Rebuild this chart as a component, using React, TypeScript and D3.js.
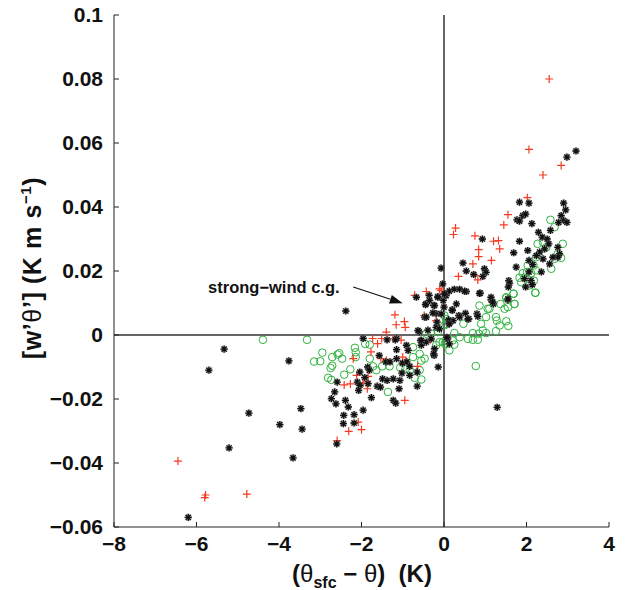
import React from "react";
import * as d3 from "d3";

const xTicks = [-8, -6, -4, -2, 0, 2, 4];
const xTickLabels = ["−8", "−6", "−4", "−2", "0", "2", "4"];
const yTicks = [-0.06, -0.04, -0.02, 0, 0.02, 0.04, 0.06, 0.08, 0.1];
const yTickLabels = ["−0.06", "−0.04", "−0.02", "0", "0.02", "0.04", "0.06", "0.08", "0.1"];

const blackPoints: [number, number][] = [
  [-6.2, -0.057], [-5.21, -0.0353], [-5.33, -0.0044], [-5.7, -0.011], [-4.73, -0.0244], [-3.98, -0.028],
  [-3.47, -0.023], [-3.44, -0.0294], [-3.66, -0.0384], [-3.76, -0.0081], [-2.38, 0.0075], [-2.6, -0.034],
  [1.29, -0.0226], [2.98, 0.0556], [3.2, 0.0575],
  [-0.67, 0.0118], [-0.43, 0.0098], [-0.36, 0.0124], [-0.25, 0.0093], [-0.15, 0.012], [0.03, 0.0129],
  [-0.02, 0.0108], [-0.19, 0.0067], [-0.27, 0.0069], [-0.47, 0.0056], [-0.6, 0.001], [-0.39, 0.0015],
  [-0.17, 0.004], [-1.96, -0.0011], [-1.38, -0.0015], [-1.15, -0.0011], [-0.91, -0.0032], [-1.15, -0.0046],
  [-0.87, -0.0048], [-0.57, -0.0017], [-0.55, -0.0032], [-0.43, -0.0022], [-0.23, -0.0043], [-0.24, -0.0064],
  [-1.57, -0.0064], [-1.41, -0.0084], [-1.31, -0.0084], [-1.15, -0.0074], [-1.01, -0.0088], [-0.9, -0.0084],
  [-0.83, -0.0098], [-1.85, -0.01], [-1.81, -0.011], [-2.04, -0.0116], [-1.92, -0.0133], [-2.1, -0.0147],
  [-2.04, -0.0157], [-2.07, -0.0173], [-1.84, -0.0152], [-1.49, -0.0137], [-1.38, -0.0142], [-1.23, -0.0137],
  [-1.07, -0.0142], [-1.02, -0.0119], [-1.62, -0.016], [-1.54, -0.0163], [-1.09, -0.0168], [-0.65, -0.016],
  [-0.83, -0.0126], [-0.65, -0.0116], [-0.14, -0.01], [-2.59, -0.0147], [-2.65, -0.0178], [-2.73, -0.0199],
  [-2.39, -0.0204], [-2.62, -0.0215], [-1.76, -0.0196], [-1.23, -0.0204], [-1.17, -0.0213], [-1.96, -0.0235],
  [-2.32, -0.0225], [-2.43, -0.0251], [-2.18, -0.0249], [-2.44, -0.0277], [-2.18, -0.0275],
  [0.3, 0.0097], [0.2, 0.0079], [0.36, 0.0061], [0.52, 0.0068], [0.6, 0.005], [0.22, 0.0045], [0.12, 0.0035],
  [0.8, 0.0066], [0.82, 0.0058], [1.14, 0.011], [1.2, 0.0097], [1.55, 0.011], [0.88, 0.0131], [0.54, 0.0136],
  [0.09, -0.0012],
  [1.83, 0.0415], [2.06, 0.0412], [1.77, 0.036], [1.91, 0.0373], [1.98, 0.0378], [1.83, 0.0356], [2.13, 0.0348],
  [2.9, 0.0412], [2.95, 0.0391], [2.84, 0.0373], [2.9, 0.0358], [2.98, 0.0352], [2.78, 0.0352], [0.93, 0.03],
  [1.83, 0.0293], [2.29, 0.0321], [2.38, 0.0306], [2.58, 0.0327], [2.5, 0.03], [2.54, 0.0285], [2.44, 0.0269],
  [2.76, 0.0274], [2.8, 0.0254], [2.76, 0.0243], [2.64, 0.0243], [2.32, 0.0259], [2.4, 0.0238], [2.24, 0.0248],
  [2.03, 0.0264], [1.69, 0.0257], [2.06, 0.0233], [2.15, 0.022], [2.56, 0.0222], [2.36, 0.0197], [2.06, 0.0197],
  [1.95, 0.0176], [2.11, 0.017], [1.98, 0.015], [2.14, 0.0157], [1.57, 0.017], [1.59, 0.0162], [1.56, 0.015],
  [1.75, 0.0212], [0.46, 0.0225], [0.54, 0.02], [0.98, 0.0207], [1.02, 0.0196], [0.72, 0.0189], [0.94, 0.0183],
  [-0.07, 0.0209], [-0.03, 0.016], [0.13, 0.0137], [0.25, 0.0143], [0.38, 0.0143], [0.5, 0.0137], [0.05, 0.0123],
  [0.86, 0.013], [1.14, 0.0118], [1.18, 0.0103], [1.55, 0.0113],
  [0.01, 0.0128], [-0.45, 0.0095], [-0.35, 0.0108], [-0.15, 0.0118], [0, 0.0087], [-0.23, 0.0092],
  [-0.07, 0.0066], [-0.43, 0.0056], [0.2, 0.0077], [0.38, 0.0056], [0.58, 0.005], [-0.19, 0.0024],
  [-0.11, 0.0019], [0.11, 0.0047], [0.13, 0.0035], [-0.63, 0.0014], [-0.55, -0.0017], [-0.31, -0.0012],
  [-1.18, -0.0015], [-0.25, -0.0059], [0.07, -0.0007], [0.13, -0.0028],
];

const redPoints: [number, number][] = [
  [-6.45, -0.0394], [-5.78, -0.05], [-5.8, -0.0508], [-4.78, -0.0497], [2.55, 0.08], [2.06, 0.058], [2.4, 0.05],
  [2.84, 0.053],
  [-1.19, 0.0063], [-1.16, 0.0032], [-0.96, 0.0042], [-0.94, 0.0024], [-1.4, 0.0009], [-1.73, -0.0011],
  [-1.61, -0.0027], [-1.51, -0.0011], [-1.24, -0.0011], [-1.04, -0.0016], [-0.71, 0.0124], [-0.43, 0.0136],
  [-0.48, 0.0061], [-0.33, -0.0015], [-1.77, -0.0053], [-1.53, -0.0074], [-1.4, -0.0079], [-1.0, -0.0069],
  [-0.93, -0.0082], [-0.64, -0.0098], [-2.2, -0.0074], [-2.12, -0.0126], [-1.84, -0.0129], [-1.88, -0.0147],
  [-1.96, -0.015], [-2.42, -0.0156], [-2.27, -0.0153], [-1.86, -0.0168], [-0.95, -0.0204], [-2.08, -0.0272],
  [-2.31, -0.0301], [-2.0, -0.0296], [-2.59, -0.033],
  [2.02, 0.0429], [1.55, 0.0376], [1.45, 0.0344], [0.28, 0.0334], [0.23, 0.0314], [0.75, 0.031], [1.2, 0.0293],
  [1.32, 0.0295], [0.84, 0.0267], [1.35, 0.0269], [0.84, 0.0245], [1.15, 0.0233], [0.7, 0.0222], [0.76, 0.0186],
  [0.82, 0.0172], [0.35, 0.0183], [-0.07, 0.0139], [0.01, 0.0129], [-0.11, 0.0144], [-0.19, 0.0045],
];

const greenPoints: [number, number][] = [
  [-4.39, -0.0015], [-3.32, -0.0015], [0.77, -0.0097],
  [-2.95, -0.0055], [-3.15, -0.0083], [-3.0, -0.0082], [-2.71, -0.0069], [-2.54, -0.0057], [-2.47, -0.0074],
  [-2.58, -0.0061], [-2.16, -0.004], [-2.14, -0.0054], [-2.14, -0.0069], [-1.91, -0.0028], [-1.8, -0.003],
  [-2.75, -0.0103], [-2.71, -0.0096], [-2.81, -0.0134], [-2.73, -0.014], [-2.42, -0.0124], [-2.27, -0.0107],
  [-1.8, -0.0074], [-1.72, -0.0098], [-1.64, -0.011], [-1.5, -0.0098], [-1.36, -0.0178], [-1.32, -0.0098],
  [-1.06, -0.0102], [-0.93, -0.0105], [-0.75, -0.0038], [-0.59, -0.0059], [-0.47, -0.0074], [-0.55, -0.008],
  [-0.75, -0.0069], [-0.71, -0.0134], [-0.55, -0.0139], [-0.59, -0.011], [-0.83, -0.011], [-0.43, 0.0004],
  [-0.31, 0.0004], [-0.15, 0.0009], [-0.19, -0.0032], [-0.11, -0.0022], [0.02, -0.0027], [0.05, -0.0017],
  [0.05, 0.005], [0.01, 0.003],
  [1.68, 0.0129], [2.21, 0.0132], [1.51, 0.0118], [1.37, 0.0097], [1.55, 0.0087], [1.71, 0.0097], [1.47, 0.0082],
  [0.86, 0.0092], [1.06, 0.0082], [1.02, 0.0056], [1.26, 0.0056], [1.28, 0.0045], [1.35, 0.003], [1.51, 0.0043],
  [1.56, 0.0028], [1.26, 0.0012], [0.9, 0.0035], [0.94, 0.0014], [1.02, 0.0006], [0.84, 0.0004], [0.7, 0.0006],
  [0.47, 0.0035], [0.01, 0.0061], [0.05, 0.0035], [0.25, 0.0006], [0.38, -0.0007], [0.58, -0.0012],
  [0.7, -0.0015], [0.82, -0.0015], [0.21, -0.0017], [0.05, -0.0028], [-0.03, -0.0022], [0.13, -0.0048],
  [0.25, -0.003],
  [2.58, 0.036], [2.68, 0.0337], [2.88, 0.0285], [2.27, 0.0285], [2.4, 0.029], [2.48, 0.0274], [2.76, 0.0254],
  [2.84, 0.0241], [2.68, 0.0238], [2.6, 0.0207], [2.23, 0.0243], [2.03, 0.0217], [2.17, 0.0217], [2.23, 0.0202],
  [2.01, 0.0197], [2.11, 0.0193], [1.91, 0.0193], [1.95, 0.0179], [2.18, 0.017], [2.07, 0.0155], [1.87, 0.0165],
  [2.22, 0.0132], [1.83, 0.0179], [1.69, 0.0129], [1.51, 0.0116], [1.71, 0.0097], [1.1, 0.0082],
];

const annotationText = "strong−wind c.g.";
const annotationTextPos: [number, number] = [-2.53, 0.0131];
const arrowStart: [number, number] = [-2.2, 0.0150];
const arrowEnd: [number, number] = [-1.0, 0.0099];

const FONT = "'Liberation Sans', Arial, Helvetica, sans-serif";

export default function App() {
  const x = d3.scaleLinear().domain([-8, 4]).range([114, 609]);
  const y = d3.scaleLinear().domain([-0.06, 0.1]).range([527, 15]);
  const [x0, x1] = x.range();
  const [yb, yt] = y.range();
  const tickLen = 5;
  const axisColor = "#222";

  const asterisk = (cx: number, cy: number, k: number) => {
    const r = 3.6;
    const d = r * 0.72;
    const path = `M${cx - r},${cy}L${cx + r},${cy}M${cx},${cy - r}L${cx},${cy + r}M${cx - d},${cy - d}L${cx + d},${cy + d}M${cx - d},${cy + d}L${cx + d},${cy - d}`;
    return (
      <g key={k}>
        <path d={path} stroke="#888" strokeWidth={2.6} strokeOpacity={0.5} fill="none" />
        <path d={path} stroke="#111" strokeWidth={1.3} fill="none" />
      </g>
    );
  };
  const plus = (cx: number, cy: number, k: number) => {
    const r = 4;
    return (
      <path key={k} d={`M${cx - r},${cy}L${cx + r},${cy}M${cx},${cy - r}L${cx},${cy + r}`} stroke="#f53a22" strokeWidth={1.2} fill="none" />
    );
  };

  const ax1 = x(arrowStart[0]), ay1 = y(arrowStart[1]);
  const ax2 = x(arrowEnd[0]), ay2 = y(arrowEnd[1]);
  const ang = Math.atan2(ay2 - ay1, ax2 - ax1);
  const hl = 13, hw = 4.5;
  const bx = ax2 - hl * Math.cos(ang), by = ay2 - hl * Math.sin(ang);
  const head = [
    [ax2, ay2],
    [bx + hw * Math.sin(ang), by - hw * Math.cos(ang)],
    [bx - hw * Math.sin(ang), by + hw * Math.cos(ang)],
  ].map((p) => p.join(",")).join(" ");

  return (
    <svg width={626} height={590} style={{ position: "absolute", left: 0, top: 0, background: "#fff" }} fontFamily={FONT}>
      <rect width={626} height={590} fill="#fff" />
      <line x1={x0} x2={x1} y1={y(0)} y2={y(0)} stroke="#333" strokeWidth={1.5} />
      <line x1={x(0)} x2={x(0)} y1={yb} y2={yt} stroke="#333" strokeWidth={1.5} />
      <line x1={x0} x2={x0} y1={yb} y2={yt} stroke={axisColor} strokeWidth={1} />
      <line x1={x0} x2={x1} y1={yb} y2={yb} stroke={axisColor} strokeWidth={1} />
      {xTicks.map((t, i) => (
        <g key={"xt" + i}>
          <line x1={x(t)} x2={x(t)} y1={yb} y2={yb - tickLen} stroke={axisColor} strokeWidth={1} />
          <text x={x(t)} y={yb + 24} textAnchor="middle" fontSize={21} fontWeight="bold" fill="#111">
            {xTickLabels[i]}
          </text>
        </g>
      ))}
      {yTicks.map((t, i) => (
        <g key={"yt" + i}>
          <line x1={x0} x2={x0 + tickLen} y1={y(t)} y2={y(t)} stroke={axisColor} strokeWidth={1} />
          <text x={x0 - 11} y={y(t) + 7} textAnchor="end" fontSize={21} fontWeight="bold" fill="#111">
            {yTickLabels[i]}
          </text>
        </g>
      ))}
      <g>
        {greenPoints.map((p, i) => (
          <circle key={"g" + i} cx={x(p[0])} cy={y(p[1])} r={3.8} fill="none" stroke="#2fb33f" strokeWidth={1} />
        ))}
      </g>
      <g>{redPoints.map((p, i) => plus(x(p[0]), y(p[1]), i))}</g>
      <g>{blackPoints.map((p, i) => asterisk(x(p[0]), y(p[1]), i))}</g>
      <text x={x(annotationTextPos[0])} y={y(annotationTextPos[1])} textAnchor="end" fontSize={16.5} fontWeight="bold" fill="#111">
        {annotationText}
      </text>
      <line x1={ax1} y1={ay1} x2={bx} y2={by} stroke="#111" strokeWidth={1.3} />
      <polygon points={head} fill="#111" />
      <text x={362} y={582} textAnchor="middle" fontSize={24} fill="#111">
        <tspan fontWeight="bold">(</tspan>
        <tspan>θ</tspan>
        <tspan fontWeight="bold" fontSize={16} dy={6}>sfc</tspan>
        <tspan fontWeight="bold" dy={-6}>{"\u00a0−\u00a0"}</tspan>
        <tspan>θ</tspan>
        <tspan fontWeight="bold">{")\u00a0\u00a0(K)"}</tspan>
      </text>
      <text transform="translate(41,268) rotate(-90)" textAnchor="middle" fontSize={25} fill="#111" letterSpacing={0.6}>
        <tspan fontWeight="bold">[w’</tspan>
        <tspan>θ</tspan>
        <tspan fontWeight="bold">{"’]\u00a0(K\u00a0m\u00a0s"}</tspan>
        <tspan fontWeight="bold" fontSize={15} dy={-10}>−1</tspan>
        <tspan fontWeight="bold" dy={10}>)</tspan>
      </text>
    </svg>
  );
}
